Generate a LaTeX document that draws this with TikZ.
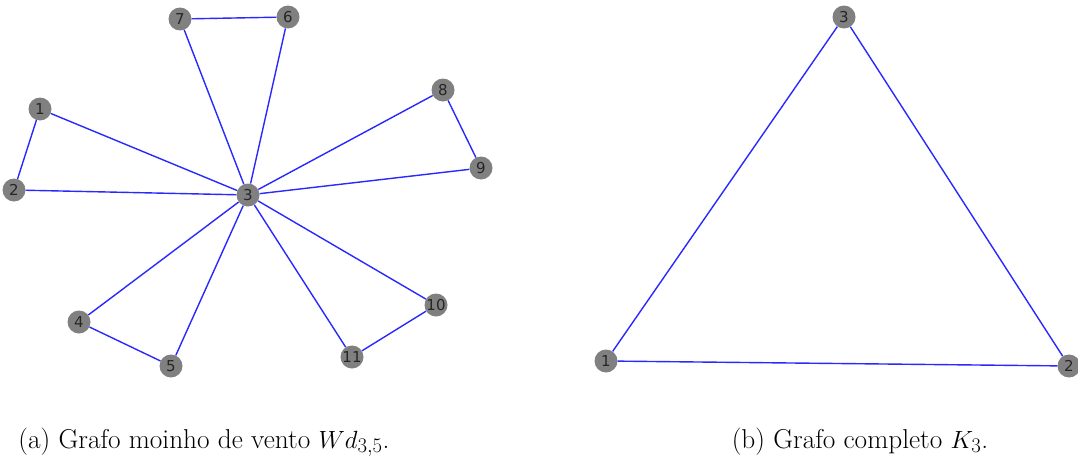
\documentclass[tikz,border=0pt]{standalone}
\usepackage{fontspec}
\newfontfamily\nodefont{DejaVu Sans}
\begin{document}
\begin{tikzpicture}[x=1pt,y=-1pt,
  vtx/.style={circle,fill=gray,inner sep=0pt,minimum size=23pt,font=\nodefont\fontsize{15}{15}\selectfont,text=black!85},
  edge/.style={draw={rgb,255:red,40;green,40;blue,255},line width=1.4pt},
  captxt/.style={font=\fontsize{27.3}{32}\selectfont,anchor=base}]
\useasboundingbox (0,0) rectangle (1078,463);
% windmill graph
\node[vtx] (a1) at (40,109) {1};
\node[vtx] (a2) at (14,190) {2};
\node[vtx] (a3) at (248,195) {3};
\node[vtx] (a4) at (79,322) {4};
\node[vtx] (a5) at (171,366) {5};
\node[vtx] (a6) at (288,17) {6};
\node[vtx] (a7) at (180,19) {7};
\node[vtx] (a8) at (443,90) {8};
\node[vtx] (a9) at (481,168) {9};
\node[vtx] (a10) at (436,305) {10};
\node[vtx] (a11) at (352,357) {11};
\foreach \u/\v in {a1/a2,a1/a3,a2/a3,a3/a4,a3/a5,a4/a5,a3/a6,a3/a7,a6/a7,a3/a8,a3/a9,a8/a9,a3/a10,a3/a11,a10/a11}
  \draw[edge] (\u) -- (\v);
% complete graph K3
\node[vtx] (b1) at (606,361) {1};
\node[vtx] (b2) at (1069,366) {2};
\node[vtx] (b3) at (844,17) {3};
\draw[edge] (b1) -- (b2);
\draw[edge] (b1) -- (b3);
\draw[edge] (b2) -- (b3);
% captions
\node[captxt] (ca) at (204,448) {(a) Grafo moinho de vento $Wd_{3,5}$.};
\node[captxt] (cb) at (860,448) {(b) Grafo completo $K_3$.};
\end{tikzpicture}
\end{document}
